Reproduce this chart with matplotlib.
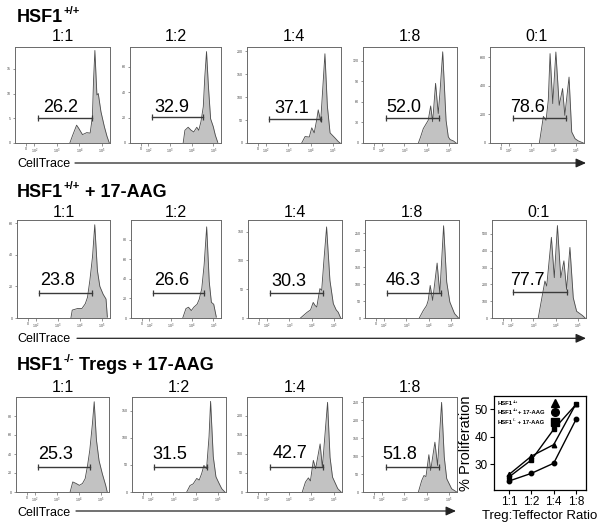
import matplotlib
matplotlib.use('Agg')
import matplotlib.pyplot as plt
from matplotlib.patches import FancyArrowPatch
from matplotlib.lines import Line2D
import numpy as np

plt.rcParams['font.family'] = ['Liberation Sans', 'DejaVu Sans']
plt.rcParams['mathtext.fontset'] = 'custom'
plt.rcParams['mathtext.rm'] = 'Liberation Sans'
plt.rcParams['mathtext.bf'] = 'Liberation Sans:bold'
plt.rcParams['mathtext.it'] = 'Liberation Sans:italic'

# ---------------- data ----------------
ratios_full = ['1:1', '1:2', '1:4', '1:8', '0:1']
# row titles as (text, is_superscript) pieces
row_titles = [
    [('HSF1', False), ('+/+', True)],
    [('HSF1', False), ('+/+', True), (' + 17-AAG', False)],
    [('HSF1', False), ('-/-', True), (' Tregs + 17-AAG', False)],
]

# CellTrace intensity (decades of the logicle axis) and event counts
u11 = [3.58, 3.70, 3.88, 3.97, 4.14, 4.24, 4.33, 4.48, 4.58, 4.63, 4.69, 4.78, 4.84, 4.96, 5.11, 5.23, 5.33]
n11 = [0, 1.5, 3.6, 3.0, 1.7, 1.9, 2.1, 2.0, 5.3, 12.6, 18.7, 9.7, 10.0, 6.3, 3.3, 1.3, 0]
u12 = [3.61, 3.69, 3.84, 3.98, 4.10, 4.24, 4.33, 4.43, 4.54, 4.61, 4.69, 4.78, 4.88, 5.00, 5.10, 5.21]
n12 = [0, 10, 12.4, 10, 8.7, 12.4, 10, 16.6, 28.5, 52, 72, 44, 19, 13, 6, 0.5]
u13 = [3.60, 3.75, 3.94, 4.05, 4.16, 4.27, 4.34, 4.45, 4.54, 4.64, 4.75, 4.87, 5.09, 5.24, 5.32]
n13 = [0, 14, 13, 33, 22, 50, 72, 47, 116, 194, 80, 22, 11, 3, 0]
u14 = [3.63, 3.72, 3.85, 4.07, 4.18, 4.27, 4.40, 4.52, 4.60, 4.72, 4.87, 4.97, 5.05, 5.20, 5.32]
n14 = [0, 8, 21, 33, 54, 31, 87, 43, 75, 133, 33, 9, 5, 3, 0]
u15 = [3.36, 3.47, 3.54, 3.66, 3.76, 3.84, 3.96, 4.10, 4.25, 4.40, 4.50, 4.69, 4.81, 4.96, 5.10, 5.33]
n15 = [0, 112, 186, 158, 298, 624, 275, 635, 263, 380, 193, 460, 77, 30, 15, 0]

u21 = [3.59, 3.65, 3.89, 4.09, 4.24, 4.34, 4.45, 4.57, 4.67, 4.79, 4.90, 5.05, 5.18, 5.24]
n21 = [0, 5, 6, 6, 9, 13, 24, 39, 59, 30, 20, 15, 12, 0.6]
u22 = [3.57, 3.72, 3.84, 3.97, 4.09, 4.24, 4.34, 4.46, 4.57, 4.69, 4.81, 4.91, 5.02, 5.14]
n22 = [0, 9.6, 11, 7.6, 11, 14, 19, 30, 54, 93, 37, 16, 14, 1]
u23 = [3.50, 3.65, 3.80, 3.95, 4.07, 4.15, 4.23, 4.37, 4.45, 4.55, 4.67, 4.82, 4.97, 5.10, 5.19, 5.30]
n23 = [0, 5, 10, 14, 27, 22, 19, 51, 48, 100, 158, 65, 25, 14, 10, 0]
u24 = [3.58, 3.76, 3.91, 3.98, 4.07, 4.18, 4.38, 4.50, 4.67, 4.81, 4.95, 5.16, 5.34]
n24 = [0, 22, 37, 52, 96, 52, 162, 72, 272, 106, 47, 13, 0]
u25 = [3.22, 3.37, 3.52, 3.60, 3.81, 3.94, 4.08, 4.23, 4.37, 4.49, 4.64, 4.79, 4.94, 5.20, 5.32]
n25 = [0, 110, 220, 190, 480, 240, 550, 240, 340, 170, 420, 120, 40, 15, 0]

u31 = [3.60, 3.72, 3.87, 4.02, 4.16, 4.28, 4.39, 4.49, 4.61, 4.69, 4.79, 4.91, 5.06, 5.21, 5.28]
n31 = [0, 10.6, 9, 7, 9, 14, 28, 44, 72, 95, 55, 33, 19, 7, 0]
u32 = [3.60, 3.75, 3.89, 4.05, 4.16, 4.27, 4.37, 4.49, 4.60, 4.67, 4.79, 4.91, 5.06, 5.17, 5.31]
n32 = [0, 12, 15, 25, 22, 34, 49, 43, 102, 167, 65, 28, 15, 6, 0]
u33 = [3.60, 3.74, 3.87, 3.96, 4.09, 4.19, 4.39, 4.49, 4.72, 4.83, 4.94, 5.17, 5.32]
n33 = [0, 26, 37, 29, 83, 61, 126, 65, 235, 91, 39, 9, 0]
u34 = [3.63, 3.78, 3.88, 3.97, 4.10, 4.18, 4.37, 4.49, 4.67, 4.79, 4.90, 5.12, 5.35]
n34 = [0, 32, 46, 43, 104, 60, 139, 74, 250, 97, 37, 9, 0]

# gate (low, high, height) and % proliferated in gate
gates = [
    [(2.19, 4.58, 5.1), (2.16, 4.53, 20.3), (2.15, 4.45, 53), (2.18, 4.57, 37), (2.17, 4.54, 177)],
    [(2.15, 4.54, 16), (2.19, 4.58, 25.5), (2.13, 4.49, 43), (2.15, 4.55, 75), (2.10, 4.49, 152)],
    [(2.15, 4.49, 26), (2.13, 4.49, 46), (2.18, 4.54, 66), (2.18, 4.57, 70)],
]
pct = [
    ['26.2', '32.9', '37.1', '52.0', '78.6'],
    ['23.8', '26.6', '30.3', '46.3', '77.7'],
    ['25.3', '31.5', '42.7', '51.8'],
]
y_tops = [
    [19.4, 75.6, 208.7, 140, 670],
    [62, 100, 170, 289, 583],
    [100, 175, 249, 265],
]
y_ticks = [
    [[0, 5, 10, 15], [0, 20, 40, 60], [0, 50, 100, 150, 200], [0, 30, 60, 90, 120], [0, 200, 400, 600]],
    [[0, 20, 40, 60], [0, 20, 40, 60, 80], [0, 50, 100, 150], [0, 50, 100, 150, 200, 250], [0, 100, 200, 300, 400, 500]],
    [[0, 20, 40, 60, 80], [0, 50, 100, 150], [0, 50, 100, 150, 200], [0, 50, 100, 150, 200, 250]],
]
hist_u = [[u11, u12, u13, u14, u15], [u21, u22, u23, u24, u25], [u31, u32, u33, u34]]
hist_n = [[n11, n12, n13, n14, n15], [n21, n22, n23, n24, n25], [n31, n32, n33, n34]]

x_tick_pos = [1.65, 2, 3, 4, 5]
x_tick_lab = ['0', r'$10^2$', r'$10^3$', r'$10^4$', r'$10^5$']

# summary line chart
ratios = ['1:1', '1:2', '1:4', '1:8']
prolif_wt = [26.2, 32.9, 37.1, 52.0]
prolif_aag = [23.8, 26.6, 30.3, 46.3]
prolif_ko = [25.3, 31.5, 42.7, 51.8]
legend_labels = [
    [('HSF1', False), ('+/+', True)],
    [('HSF1', False), ('+/+', True), ('+ 17-AAG', False)],
    [('HSF1', False), ('-/-', True), (' + 17-AAG', False)],
]
legend_markers = ['^', 'o', 's']

# ---------------- layout ----------------
W, H = 600, 526
DPI = 100
fig = plt.figure(figsize=(6, 5.26), dpi=DPI)
renderer = fig.canvas.get_renderer()


def ax_px(l, r, t, b):
    return fig.add_axes([l / W, 1 - b / H, (r - l) / W, (b - t) / H])


def rich_text(x_px, base_px, parts, size, weight='normal'):
    """Draw text pieces left to right; superscript pieces are smaller and raised."""
    x = x_px
    for s, sup in parts:
        fs = size * 0.62 if sup else size
        y = base_px - (size * 0.42 * DPI / 72 if sup else 0)
        t = fig.text(x / W, 1 - y / H, s, fontsize=fs, fontweight=weight,
                     va='baseline', ha='left')
        bb = t.get_window_extent(renderer=renderer)
        x = bb.x1 + (0.3 if sup else 0)


boxes = [
    [(15, 110, 47, 143), (130, 221, 47, 143), (247, 341, 47, 143), (363, 457, 47, 143), (490, 584, 47, 143)],
    [(17, 110, 220, 318), (131, 221, 220, 318), (248, 342, 220, 318), (365, 459, 220, 318), (492, 586, 220, 318)],
    [(16, 109, 397, 492), (132, 226, 397, 492), (247, 342, 397, 492), (363, 457, 397, 492)],
]
label_u = [[3.16, 3.07, 3.15, 2.99, 2.84], [3.0, 3.04, 2.99, 2.84, 2.75], [2.94, 2.85, 3.07, 2.81]]
title_pad = [4.3, 2.0, 3.6]
label_off = [4.0, 5.5, 6.0]
title_base = [21.7, 196.7, 370]
ct_base = [167.5, 342.5, 515.7]
arrow_y = [163, 338.3, 511]
arrow_x = [(75, 586), (77, 586), (76, 456)]

minor_x = [1.25, 1.35, 1.45, 1.55, 1.75, 1.85] + \
    [float(np.log10(k) + d) for d in (2, 3, 4) for k in range(2, 10)] + [5.3]

fill_c = '#c2c2c2'
edge_c = '#4a4a4a'
box_c = '#6a6a6a'

for r in range(3):
    for c, box in enumerate(boxes[r]):
        ax = ax_px(*box)
        u = hist_u[r][c]
        n = hist_n[r][c]
        ax.fill_between(u, 0, n, color=fill_c, lw=0)
        ax.plot(u, n, color=edge_c, lw=0.6)
        ax.set_xlim(1.15, 5.36)
        ax.set_ylim(0, y_tops[r][c])
        ax.set_xticks(x_tick_pos)
        ax.set_xticklabels(x_tick_lab)
        ax.set_xticks(minor_x, minor=True)
        ax.set_yticks(y_ticks[r][c])
        ax.tick_params(axis='both', which='major', length=1.8, width=0.4, labelsize=2.6,
                       pad=1, colors='#444')
        ax.tick_params(axis='x', which='minor', length=1.0, width=0.35, colors='#444')
        for s in ax.spines.values():
            s.set_linewidth(0.7)
            s.set_color(box_c)
        lo, hi, gy = gates[r][c]
        ax.plot([lo, hi], [gy, gy], color='#3a3a3a', lw=1.0, marker='|', ms=4.5, mew=0.9)
        ax.annotate(pct[r][c], xy=(label_u[r][c], gy), xytext=(0, label_off[r]),
                    textcoords='offset points', ha='center', va='baseline', fontsize=13)
        ax.set_title(ratios_full[c], fontsize=11.5, pad=title_pad[r])

    rich_text(17, title_base[r], row_titles[r], 13, weight='bold')
    fig.text(17 / W, 1 - ct_base[r] / H, 'CellTrace', fontsize=9, va='baseline', ha='left')
    x0, x1 = arrow_x[r]
    fig.add_artist(FancyArrowPatch((x0 / W, 1 - arrow_y[r] / H), (x1 / W, 1 - arrow_y[r] / H),
                                   transform=fig.transFigure,
                                   arrowstyle='-|>,head_length=0.6,head_width=0.27',
                                   mutation_scale=10, lw=0.9, color='#222',
                                   shrinkA=0, shrinkB=0))

# summary line chart
axl = ax_px(494, 586, 396, 490)
xp = np.arange(len(ratios))
axl.plot(xp, prolif_wt, color='black', lw=1.0, marker='^', ms=3.2)
axl.plot(xp, prolif_aag, color='black', lw=1.0, marker='o', ms=3.2)
axl.plot(xp, prolif_ko, color='black', lw=1.0, marker='s', ms=3.0)
axl.set_xlim(-0.68, 3.45)
axl.set_ylim(20.5, 54.9)
axl.set_xticks(xp)
axl.set_xticklabels(ratios)
axl.set_yticks([30, 40, 50])
axl.tick_params(axis='both', length=3, width=0.8, labelsize=8.5, pad=1.5)
for s in axl.spines.values():
    s.set_linewidth(0.9)
axl.set_ylabel('% Proliferation', fontsize=10.5, labelpad=1)
axl.set_xlabel('Treg:Teffector Ratio', fontsize=9.5, labelpad=1)

leg_base = [405.0, 413.5, 423.5]
for parts, mk, yb in zip(legend_labels, legend_markers, leg_base):
    rich_text(497.5, yb, parts, 4.2, weight='bold')
    fig.add_artist(Line2D([554.5 / W], [1 - (yb - 1.8) / H], marker=mk, ms=5.5,
                          color='black', lw=0, transform=fig.transFigure))

fig.savefig('out.png', dpi=DPI)
